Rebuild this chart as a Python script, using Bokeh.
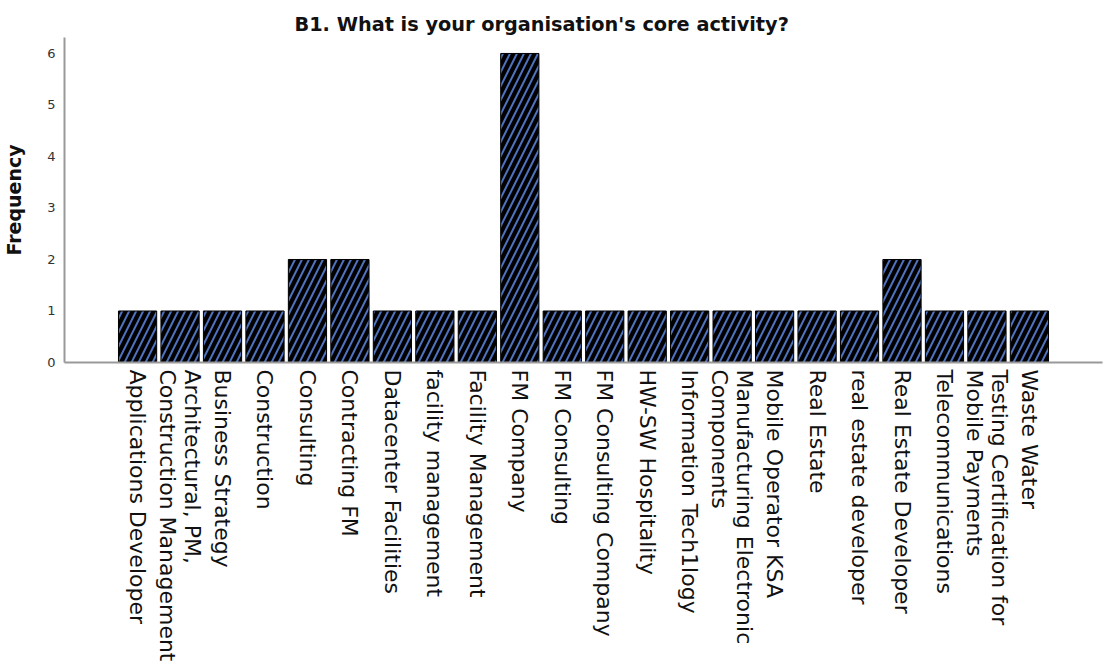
import math
from bokeh.plotting import figure
from bokeh.models import FactorRange, ColumnDataSource
from bokeh.embed import file_html
from bokeh.resources import INLINE

categories = [
    "Applications Developer",
    "Architectural, PM,\nConstruction Management",
    "Business Strategy",
    "Construction",
    "Consulting",
    "Contracting FM",
    "Datacenter Facilities",
    "facility management",
    "Facility Management",
    "FM Company",
    "FM Consulting",
    "FM Consulting Company",
    "HW-SW Hospitality",
    "Information Tech1logy",
    "Manufacturing Electronic\nComponents",
    "Mobile Operator KSA",
    "Real Estate",
    "real estate developer",
    "Real Estate Developer",
    "Telecommunications",
    "Testing Certification for\nMobile Payments",
    "Waste Water",
]
frequency = [1, 1, 1, 1, 2, 2, 1, 1, 1, 6, 1, 1, 1, 1, 1, 1, 1, 1, 2, 1, 1, 1]
y_ticks = [0, 1, 2, 3, 4, 5, 6]

source = ColumnDataSource(dict(cat=categories, freq=frequency))

p = figure(
    x_range=FactorRange(factors=categories, range_padding=0.111),
    y_range=(0, 6.31),
    frame_width=1038, frame_height=325,
    output_backend="svg", toolbar_location=None,
    min_border_left=59, min_border_right=3, min_border_top=37, min_border_bottom=299,
    title="B1. What is your organisation's core activity?",
)
p.vbar(x="cat", top="freq", width=0.9, source=source,
       fill_color="black", line_color="black", line_width=1,
       hatch_pattern="/", hatch_color="#4F72BE", hatch_scale=14, hatch_weight=2)

p.title.align = "left"
p.title.offset = 230
p.title.text_font = "DejaVu Sans"
p.title.text_font_size = "19.3px"
p.title.text_font_style = "bold"
p.title.text_color = "#111111"
p.title.standoff = 4

p.xgrid.visible = False
p.ygrid.visible = False
p.outline_line_color = None

p.yaxis.ticker = y_ticks
p.yaxis.axis_label = "Frequency"
p.yaxis.axis_label_text_font = "DejaVu Sans"
p.yaxis.axis_label_text_font_size = "19px"
p.yaxis.axis_label_text_font_style = "bold"
p.yaxis.axis_label_text_color = "#111111"
p.yaxis.axis_label_standoff = 19
p.yaxis.major_label_text_font = "DejaVu Sans"
p.yaxis.major_label_text_font_size = "13px"
p.yaxis.major_label_text_color = "#333333"
p.yaxis.major_tick_line_color = None
p.yaxis.major_tick_out = 0
p.yaxis.major_tick_in = 0
p.yaxis.minor_tick_line_color = None
p.yaxis.major_label_standoff = 9
p.yaxis.axis_line_color = "#999999"
p.yaxis.axis_line_width = 2

p.xaxis.major_label_orientation = -math.pi / 2
p.xaxis.major_label_text_font = "DejaVu Sans"
p.xaxis.major_label_text_font_size = "22px"
p.xaxis.major_label_text_color = "#111111"
p.xaxis.major_label_standoff = 1
p.xaxis.major_tick_line_color = None
p.xaxis.axis_line_color = "#999999"
p.xaxis.axis_line_width = 2
p.xaxis.major_label_text_line_height = 1.0

open("out.html", "w").write(file_html(p, INLINE))
